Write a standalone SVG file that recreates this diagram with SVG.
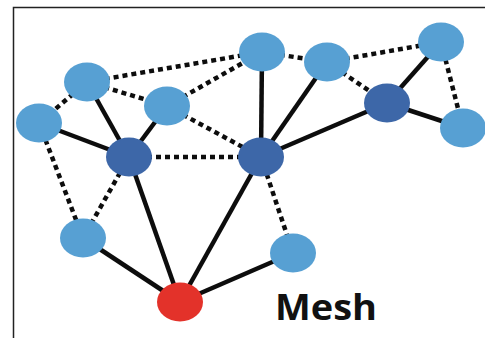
<svg xmlns="http://www.w3.org/2000/svg" width="485" height="338" viewBox="0 0 485 338">
<style>
.solid{stroke:#0d0d0d;stroke-width:4.5;fill:none}
.dot{stroke:#0d0d0d;stroke-width:4.5;fill:none;stroke-dasharray:5 4}
.light{fill:#57a0d3}
.dark{fill:#3d67a8}
.red{fill:#e3322a}
.lbl{font-family:"Open Sans","Liberation Sans",sans-serif;font-weight:bold;font-size:35px;fill:#111}
</style>
<rect width="485" height="338" fill="#fff"/>
<path d="M13.5 338 V7.5 H485" stroke="#222" stroke-width="1.5" fill="none"/>
<g id="connectors">
<line class="solid" x1="39" y1="123" x2="129" y2="157"/>
<line class="solid" x1="87" y1="82" x2="129" y2="157"/>
<line class="solid" x1="167" y1="106" x2="129" y2="157"/>
<line class="solid" x1="129" y1="157" x2="180" y2="302"/>
<line class="solid" x1="262" y1="52" x2="261" y2="157"/>
<line class="solid" x1="327" y1="62" x2="261" y2="157"/>
<line class="solid" x1="387" y1="103" x2="261" y2="157"/>
<line class="solid" x1="261" y1="157" x2="180" y2="302"/>
<line class="solid" x1="83" y1="238" x2="180" y2="302"/>
<line class="solid" x1="293" y1="253" x2="180" y2="302"/>
<line class="solid" x1="387" y1="103" x2="441" y2="42"/>
<line class="solid" x1="387" y1="103" x2="463" y2="128"/>
<line class="dot" x1="87" y1="82" x2="262" y2="52"/>
<line class="dot" x1="87" y1="82" x2="39" y2="123"/>
<line class="dot" x1="87" y1="82" x2="167" y2="106"/>
<line class="dot" x1="167" y1="106" x2="262" y2="52"/>
<line class="dot" x1="167" y1="106" x2="261" y2="157"/>
<line class="dot" x1="129" y1="157" x2="261" y2="157"/>
<line class="dot" x1="262" y1="52" x2="327" y2="62"/>
<line class="dot" x1="327" y1="62" x2="441" y2="42"/>
<line class="dot" x1="327" y1="62" x2="387" y2="103"/>
<line class="dot" x1="441" y1="42" x2="463" y2="128"/>
<line class="dot" x1="39" y1="123" x2="83" y2="238"/>
<line class="dot" x1="129" y1="157" x2="83" y2="238"/>
<line class="dot" x1="261" y1="157" x2="293" y2="253"/>
</g>
<g id="n_a"><ellipse class="light" cx="87" cy="82" rx="23" ry="19.5"/></g>
<g id="n_b"><ellipse class="light" cx="39" cy="123" rx="23" ry="19.5"/></g>
<g id="n_c"><ellipse class="light" cx="167" cy="106" rx="23" ry="19.5"/></g>
<g id="n_e"><ellipse class="light" cx="262" cy="52" rx="23" ry="19.5"/></g>
<g id="n_f"><ellipse class="light" cx="327" cy="62" rx="23" ry="19.5"/></g>
<g id="n_g"><ellipse class="light" cx="441" cy="42" rx="23" ry="19.5"/></g>
<g id="n_h"><ellipse class="light" cx="463" cy="128" rx="23" ry="19.5"/></g>
<g id="n_i"><ellipse class="light" cx="83" cy="238" rx="23" ry="19.5"/></g>
<g id="n_j"><ellipse class="light" cx="293" cy="253" rx="23" ry="19.5"/></g>
<g id="hub_1"><ellipse class="dark" cx="129" cy="157" rx="23" ry="19.5"/></g>
<g id="hub_2"><ellipse class="dark" cx="261" cy="157" rx="23" ry="19.5"/></g>
<g id="hub_3"><ellipse class="dark" cx="387" cy="103" rx="23" ry="19.5"/></g>
<g id="root"><ellipse class="red" cx="180" cy="302" rx="23" ry="19.5"/></g>
<g id="label"><text class="lbl" x="275" y="320" textLength="102" lengthAdjust="spacingAndGlyphs">Mesh</text></g>
</svg>
